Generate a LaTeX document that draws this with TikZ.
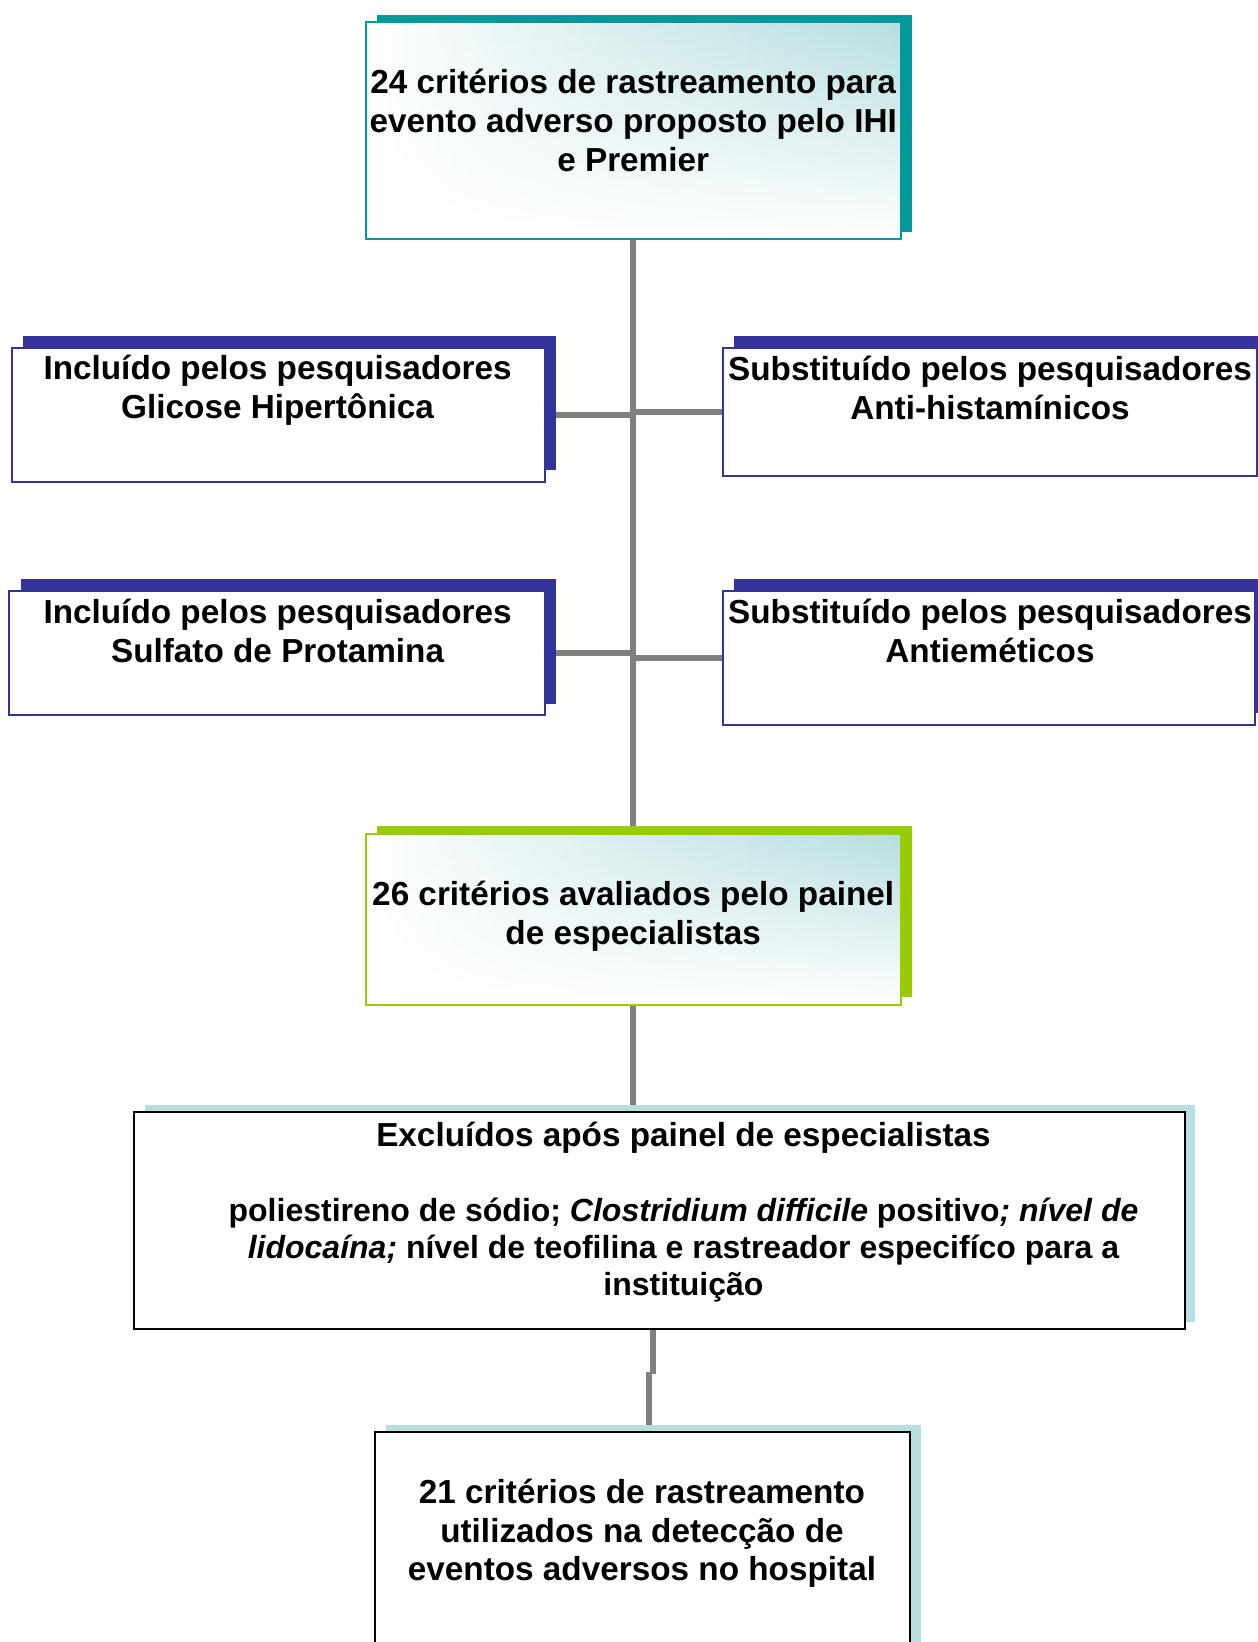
\documentclass[tikz,border=0pt]{standalone}
\usepackage{fontspec}
\setmainfont{Liberation Sans}
\usetikzlibrary{shadows,fadings,backgrounds}
\definecolor{tealedge}{HTML}{009999}
\definecolor{indigoedge}{HTML}{333399}
\definecolor{limeedge}{HTML}{99CC00}
\definecolor{paleteal}{HTML}{B7DEE0}
\definecolor{linkgray}{HTML}{808080}
\tikzfading[name=boxfade, top color=transparent!100, middle color=transparent!75, bottom color=transparent!0]
\tikzset{
  card/.style={rectangle, inner sep=0pt, line width=2pt},
  glow/.style={left color=white, right color=paleteal, middle color=paleteal!55,
    path picture={\fill[white, path fading=boxfade]
      (path picture bounding box.south west) rectangle (path picture bounding box.north east);}},
  headbox/.style={card, draw=tealedge, glow,
    general shadow={fill=tealedge, shadow xshift=11.5pt, shadow yshift=7.3pt}},
  sidebox/.style={card, draw=indigoedge, fill=white,
    general shadow={fill=indigoedge, shadow xshift=11.5pt, shadow yshift=11.5pt}},
  panelbox/.style={card, draw=limeedge, glow,
    general shadow={fill=limeedge, shadow xshift=11.5pt, shadow yshift=7.3pt}},
  plainbox/.style={card, draw=black, fill=white,
    general shadow={fill=paleteal, shadow xshift=10.5pt, shadow yshift=7.3pt}},
  txt/.style={align=center, inner sep=0pt, font=\fontsize{33.3}{38.75}\selectfont\bfseries},
  smalltxt/.style={align=center, inner sep=0pt, font=\fontsize{32}{36.8}\selectfont\bfseries},
  conn/.style={draw=linkgray, line width=6pt},
}
\begin{document}
\begin{tikzpicture}[x=1pt, y=-1pt]
\useasboundingbox (0,0) rectangle (1258,1642);

% boxes
\node[headbox, minimum width=535pt, minimum height=217pt] (crit24) at (633.2,130.4) {};
\node[sidebox, minimum width=533pt, minimum height=134pt] (incl1) at (278,414.7) {};
\node[sidebox, minimum width=534.3pt, minimum height=127.8pt] (subs1) at (989.9,411.6) {};
\node[sidebox, minimum width=535.2pt, minimum height=124.7pt] (incl2) at (277,653) {};
\node[sidebox, minimum width=532pt, minimum height=134pt] (subs2) at (988.8,657.8) {};
\node[panelbox, minimum width=535pt, minimum height=170.8pt] (crit26) at (633.2,919.1) {};
\node[plainbox, minimum width=1050.6pt, minimum height=216.9pt] (excl) at (659.3,1220.75) {};
\node[plainbox, minimum width=535.2pt, minimum height=268.2pt] (crit21) at (642.6,1565.9) {};

% texts
\node[txt] (crit24t) at (633.2,120.5) {24 critérios de rastreamento para\\evento adverso proposto pelo IHI\\e Premier};
\node[txt] (incl1t) at (277.6,390.2) {Incluído pelos pesquisadores\\Glicose Hipertônica};
\node[txt] (subs1t) at (990,388) {Substituído pelos pesquisadores\\Anti-histamínicos};
\node[txt] (incl2t) at (277.6,631) {Incluído pelos pesquisadores\\Sulfato de Protamina};
\node[txt] (subs2t) at (990,631) {Substituído pelos pesquisadores\\Antieméticos};
\node[txt] (crit26t) at (633.2,916) {26 critérios avaliados pelo painel\\de especialistas};
\node[smalltxt] (exclt) at (683.5,1211.8) {{\fontsize{33.3}{36.8}\selectfont Excluídos após painel de especialistas}\\[38.6pt]
  poliestireno de sódio; \textit{Clostridium difficile} positivo\textit{; nível de}\\
  \textit{lidocaína;} nível de teofilina e rastreador especifíco para a\\
  instituição};
\node[txt] (crit21t) at (642,1533.3) {21 critérios de rastreamento\\utilizados na detecção de\\eventos adversos no hospital};

% connectors
\coordinate (jogA) at (652.5,1372);
\coordinate (jogB) at (649.4,1372);
\begin{scope}[on background layer]
  \fill[white] (0,0) rectangle (1258,1642);
  \draw[conn] (crit24.south) -- (crit26.north);
  \draw[conn] (incl1.east) -- (incl1.east -| crit24.south);
  \draw[conn] (subs1.west) -- (subs1.west -| crit24.south);
  \draw[conn] (incl2.east) -- (incl2.east -| crit24.south);
  \draw[conn] (subs2.west) -- (subs2.west -| crit24.south);
  \draw[conn] (crit26.south) -- (crit26.south |- excl.north);
  \draw[conn] (jogA |- excl.south) -- ([yshift=-2pt]jogA);
  \draw[conn] (jogB) -- (jogB |- crit21.north);
\end{scope}
\end{tikzpicture}
\end{document}
